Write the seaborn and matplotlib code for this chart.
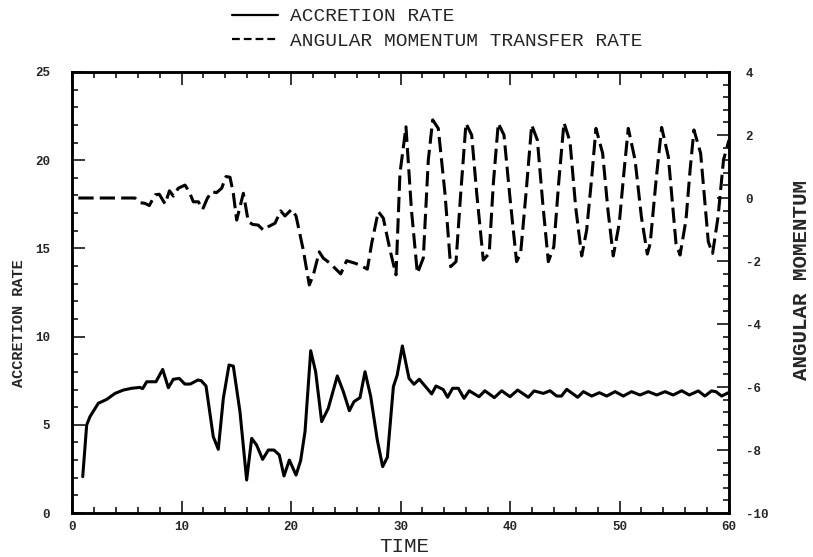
import numpy as np
import pandas as pd
import matplotlib
matplotlib.use("Agg")
import matplotlib.pyplot as plt
from matplotlib.ticker import MultipleLocator
from matplotlib.lines import Line2D
import seaborn as sns

# ---- data ----
time_acc = [0.98, 1.34, 1.64, 2.4, 3.17, 3.93, 4.69, 5.45, 6.2, 6.45, 6.82, 7.67,
            8.28, 8.8, 9.25, 9.8, 10.3, 10.8, 11.5, 11.8, 12.24, 12.9, 13.36, 13.82,
            14.34, 14.73, 15.34, 15.95, 16.41, 16.86, 17.41, 17.93, 18.45, 18.93,
            19.36, 19.85, 20.46, 20.88, 21.28, 21.8, 22.25, 22.8, 23.4, 24.23, 24.78,
            25.33, 25.75, 26.3, 26.76, 27.28, 27.88, 28.37, 28.8, 29.35, 29.7, 30.17,
            30.78, 31.23, 31.72, 32.85, 33.24, 33.9, 34.3, 34.76, 35.28, 35.8, 36.28,
            37.17, 37.7, 38.57, 39.24, 40.0, 40.7, 41.67, 42.2, 43.04, 43.65, 44.27,
            44.7, 45.18, 46.18, 46.7, 47.46, 48.16, 48.83, 49.6, 50.35, 51.1, 51.87,
            52.63, 53.4, 54.16, 54.9, 55.68, 56.37, 57.2, 57.8, 58.4, 58.8, 59.33, 59.94]
accretion = [2.06, 4.99, 5.46, 6.22, 6.44, 6.78, 6.97, 7.07, 7.12, 7.05, 7.44, 7.44,
             8.14, 7.1, 7.58, 7.63, 7.31, 7.31, 7.54, 7.5, 7.2, 4.33, 3.61, 6.5,
             8.39, 8.33, 5.74, 1.87, 4.23, 3.85, 3.04, 3.57, 3.57, 3.29,
             2.1, 3.0, 2.15, 2.97, 4.61, 9.2, 8.01, 5.18, 5.93, 7.77, 6.88,
             5.8, 6.31, 6.54, 8.01, 6.6, 4.14, 2.63, 3.16, 7.16, 7.82, 9.47,
             7.63, 7.3, 7.58, 6.75, 7.2, 7.0, 6.56, 7.07, 7.07, 6.5, 6.93,
             6.59, 6.93, 6.54, 6.93, 6.59, 6.97, 6.56, 6.92, 6.78, 6.93, 6.63,
             6.63, 7.01, 6.56, 6.88, 6.63, 6.82, 6.63, 6.88, 6.63, 6.88, 6.69,
             6.88, 6.69, 6.88, 6.69, 6.93, 6.69, 6.92, 6.63, 6.92, 6.88, 6.63, 6.82]

time_ang = [0.58, 5.75, 6.2, 6.67, 7.06, 7.58, 7.97, 8.5, 8.9, 9.26, 9.7, 10.32, 10.7,
            11.08, 11.54, 11.93, 12.36, 12.76, 13.2, 13.67, 14.06, 14.43, 14.73, 15.04,
            15.34, 15.65, 16.1, 16.5, 17.0, 17.47, 17.93, 18.54, 19.06, 19.45, 20.06,
            20.46, 21.12, 21.67, 22.04, 22.58, 22.95, 23.56, 24.54, 25.08, 25.84, 26.3,
            26.97, 27.37, 27.97, 28.43, 29.04, 29.59, 29.95, 30.5, 31.0, 31.54, 32.08,
            32.54, 32.94, 33.45, 34.06, 34.58, 35.07, 35.5, 35.98, 36.5, 36.96, 37.56,
            38.1, 38.48, 38.93, 39.45, 40.0, 40.6, 40.97, 41.5, 41.98, 42.5, 43.0,
            43.5, 44.0, 44.45, 44.93, 45.48, 46.0, 46.55, 47.0, 47.45, 47.85, 48.46,
            48.95, 49.43, 49.98, 50.4, 50.8, 51.42, 52.0, 52.54, 52.8, 53.35, 53.85,
            54.46, 55.16, 55.53, 56.07, 56.45, 56.8, 57.41, 58.11, 58.5, 59.0, 59.5, 60.0]
angular = [0.0, 0.0, -0.15, -0.17, -0.24, 0.1, 0.12, -0.19, 0.23, 0.06, 0.31, 0.41, 0.2,
           -0.12, -0.12, -0.36, -0.01, 0.2, 0.17, 0.31, 0.68, 0.66, 0.15, -0.7,
           -0.28, 0.15, -0.75, -0.84, -0.86, -1.02, -0.91, -0.8, -0.41, -0.57, -0.36,
           -0.57, -1.65, -2.76, -2.44, -1.71, -1.91, -2.07, -2.41, -1.99, -2.07, -2.13,
           -2.26, -1.44, -0.43, -0.64, -1.65, -2.44, 0.78, 2.26, -0.38, -2.39, -1.91,
           1.21, 2.48, 2.21, 0.15, -2.18, -2.02, 0.15, 2.37, 2.0, 0.15, -1.97,
           -1.76, 0.47, 2.37, 2.0, 0.0, -2.02, -1.76, 0.3, 2.32, 1.84, -0.2,
           -2.02, -1.55, 0.5, 2.39, 1.79, -0.3, -1.84, -1.02, 0.6, 2.21, 1.42,
           -0.4, -1.84, -0.8, 0.8, 2.21, 1.21, -0.6, -1.78, -1.45, 0.6, 2.24,
           1.31, -1.44, -1.81, -0.7, 0.9, 2.16, 1.42, -1.39, -1.76, -0.6, 1.21, 1.84]

xticks = [0, 10, 20, 30, 40, 50, 60]
left_ticks = [0, 5, 10, 15, 20, 25]
right_ticks = [-10, -8, -6, -4, -2, 0, 2, 4]

df_acc = pd.DataFrame({"time": time_acc, "value": accretion})
df_ang = pd.DataFrame({"time": time_ang, "value": angular})

# ---- style ----
sns.set_style("ticks")
plt.rcParams["font.family"] = ["Liberation Mono", "DejaVu Sans Mono"]
plt.rcParams["axes.unicode_minus"] = False

fig = plt.figure(figsize=(8.13, 5.57), dpi=100)
ax = fig.add_axes([72 / 813, 1 - 513 / 557, 657 / 813, 441 / 557])
ax2 = ax.twinx()

sns.lineplot(data=df_acc, x="time", y="value", ax=ax, color="black",
             linewidth=2.2, estimator=None, sort=False)
sns.lineplot(data=df_ang, x="time", y="value", ax=ax2, color="black",
             linewidth=2.2, estimator=None, sort=False)
ax2.lines[0].set_dashes((5, 2))

ax.set_xlim(0, 60)
ax.set_ylim(0, 25)
ax2.set_ylim(-10, 4)

ax.set_xticks(xticks)
ax.set_xticklabels([str(v) for v in xticks])
ax.xaxis.set_minor_locator(MultipleLocator(2))
ax.set_yticks(left_ticks)
ax.set_yticklabels([str(v) for v in left_ticks])
ax.yaxis.set_minor_locator(MultipleLocator(1))
ax2.set_yticks(right_ticks)
ax2.set_yticklabels([str(v) for v in right_ticks])
ax2.yaxis.set_minor_locator(MultipleLocator(0.4))

for a in (ax, ax2):
    for s in a.spines.values():
        s.set_linewidth(1.8)
        s.set_color("black")

ax.tick_params(axis="x", which="both", direction="in", top=True, bottom=True,
               labelsize=9, pad=6, width=1.3)
ax.tick_params(axis="y", which="both", direction="in", left=True, right=False,
               labelsize=9, pad=16, width=1.3)
ax2.tick_params(axis="y", which="both", direction="in", right=True, left=False,
                labelsize=9, pad=12, width=1.3)
for a in (ax, ax2):
    a.tick_params(which="major", length=9)
    a.tick_params(which="minor", length=4.5)
for lab in ax.get_xticklabels() + ax.get_yticklabels() + ax2.get_yticklabels():
    lab.set_fontweight("bold")

ax.set_xlabel("TIME", fontsize=15)
ax.xaxis.set_label_coords(0.505, -0.075)
ax.xaxis.label.set_va("center")
ax.set_ylabel("ACCRETION RATE", fontsize=11, fontweight="bold")
ax.yaxis.label.set(ha="center", va="center", rotation_mode="default")
ax.yaxis.set_label_coords(-0.081, 0.431)
ax2.set_ylabel("ANGULAR MOMENTUM", fontsize=15, fontweight="bold", rotation=90)
ax2.yaxis.label.set(ha="center", va="center", rotation_mode="default")
ax2.yaxis.set_label_coords(1.11, 0.528)

handles = [Line2D([], [], color="black", lw=1.6),
           Line2D([], [], color="black", lw=1.6, dashes=(3.5, 1.8))]
fig.legend(handles, ["ACCRETION RATE", "ANGULAR MOMENTUM TRANSFER RATE"],
           loc="upper left", bbox_to_anchor=(224 / 813, 1 - 0 / 557),
           frameon=False, fontsize=14, handlelength=2.4, handletextpad=0.6,
           labelspacing=0.35, borderaxespad=0)

fig.savefig("out.png", dpi=100)
